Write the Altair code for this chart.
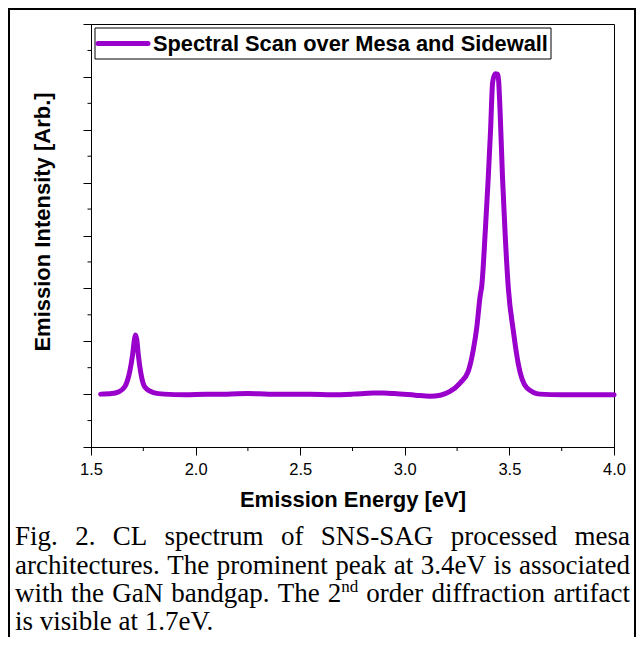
import altair as alt
import pandas as pd

# ---------------- data ----------------
energy = [1.546, 1.60, 1.63, 1.663, 1.686, 1.699, 1.708, 1.713, 1.719, 1.726,
          1.739, 1.758, 1.798, 1.85, 1.95, 2.05, 2.15, 2.25, 2.35, 2.45,
          2.55, 2.65, 2.75, 2.85, 2.90, 2.95, 3.05, 3.12, 3.17, 3.216,
          3.264, 3.304, 3.328, 3.344, 3.36, 3.368, 3.385, 3.399, 3.41, 3.42,
          3.432, 3.445, 3.455, 3.467, 3.48, 3.495, 3.519, 3.543, 3.583, 3.646,
          3.75, 3.85, 4.0]
intensity = [0.0, 0.01, 0.04, 0.15, 0.44, 0.75, 1.04, 1.12, 1.03, 0.75,
             0.38, 0.13, 0.03, 0.0, -0.01, 0.0, 0.0, 0.01, 0.0, 0.0,
             0.0, -0.01, 0.0, 0.02, 0.02, 0.01, -0.02, -0.04, -0.02, 0.05,
             0.21, 0.44, 0.85, 1.26, 1.85, 2.05, 3.1, 4.1, 5.0, 5.9,
             6.06, 6.05, 5.4, 4.1, 3.0, 2.0, 1.19, 0.56, 0.12, 0.0,
             -0.01, -0.01, -0.01]

x_ticks = [1.5, 2.0, 2.5, 3.0, 3.5, 4.0]
x_minor = [1.75, 2.25, 2.75, 3.25, 3.75]
y_ticks = [-1, 0, 1, 2, 3, 4, 5, 6, 7]
y_minor = [-0.5, 0.5, 1.5, 2.5, 3.5, 4.5, 5.5, 6.5]

legend_label = "Spectral Scan over Mesa and Sidewall"
x_title = "Emission Energy [eV]"
y_title = "Emission Intensity [Arb.]"
caption_lines = [
    "Fig. 2. CL spectrum of SNS-SAG processed mesa",
    "architectures. The prominent peak at 3.4eV is associated",
    "with the GaN bandgap. The 2^nd order diffraction artifact",
    "is visible at 1.7eV.",
]
caption_justified = [True, True, True, False]

# ---------------- layout ----------------
W, H = 523, 423
XD = [1.5, 4.0]
YD = [-1, 7]
LINE_COLOR = "#9900cc"
SANS = "Liberation Sans"
SERIF = "Liberation Serif"


def px_to_x(p):
    return XD[0] + p / W * (XD[1] - XD[0])


def py_to_y(p):
    return YD[1] - p / H * (YD[1] - YD[0])


# Times / Liberation Serif advance widths (per 1000 em)
TW = dict(zip("abcdefghijklmnopqrstuvwxyz",
              [444, 500, 444, 500, 444, 333, 500, 500, 278, 278, 500, 278, 778,
               500, 500, 500, 500, 333, 389, 278, 500, 500, 722, 500, 500, 444]))
TW.update(dict(zip("ABCDEFGHIJKLMNOPQRSTUVWXYZ",
                   [722, 667, 667, 722, 611, 556, 722, 722, 333, 389, 722, 611, 889,
                    722, 722, 556, 722, 667, 556, 611, 722, 722, 944, 722, 722, 611])))
TW.update({d: 500 for d in "0123456789"})
TW.update({".": 250, ",": 250, "-": 333, " ": 250})

CAP_FS = 27
SUP_FS = 17
CAP_LEFT, CAP_RIGHT = -76, 539
CAP_BASE = [521, 549.5, 578, 606]


def tw(s, fs):
    return sum(TW.get(c, 500) for c in s) / 1000 * fs


rows = []
for li, (line, just) in enumerate(zip(caption_lines, caption_justified)):
    words = line.split(" ")
    widths = []
    for w in words:
        if "^" in w:
            b, s = w.split("^")
            widths.append(tw(b, CAP_FS) + tw(s, SUP_FS))
        else:
            widths.append(tw(w, CAP_FS))
    if just and len(words) > 1:
        gap = (CAP_RIGHT - CAP_LEFT - sum(widths)) / (len(words) - 1)
    else:
        gap = tw(" ", CAP_FS)
    xp = CAP_LEFT
    for w, wd in zip(words, widths):
        if "^" in w:
            b, s = w.split("^")
            rows.append(dict(t=b, x=px_to_x(xp), y=py_to_y(CAP_BASE[li]), k="main"))
            rows.append(dict(t=s, x=px_to_x(xp + tw(b, CAP_FS)),
                             y=py_to_y(CAP_BASE[li] - 10), k="sup"))
        else:
            rows.append(dict(t=w, x=px_to_x(xp), y=py_to_y(CAP_BASE[li]), k="main"))
        xp += wd + gap
cap_df = pd.DataFrame(rows)

xs = alt.Scale(domain=XD, nice=False, zero=False)
ys = alt.Scale(domain=YD, nice=False, zero=False)

spec_df = pd.DataFrame({"energy": energy, "intensity": intensity})
one = pd.DataFrame({"label": [legend_label]})

line = alt.Chart(spec_df).mark_line(
    color=LINE_COLOR, strokeWidth=5, strokeCap="round", strokeJoin="round",
    interpolate="monotone"
).encode(
    x=alt.X("energy:Q", scale=xs, axis=alt.Axis(
        values=x_ticks, format=".1f", tickSize=8, tickColor="black", tickWidth=1,
        domainColor="black", domainWidth=1, grid=False,
        labelFont=SANS, labelFontSize=16.5, labelColor="black", labelPadding=6,
        labelFlush=False, title=x_title, titleFont=SANS, titleFontSize=22,
        titleFontWeight="bold", titleColor="black", titleY=59,
        titleBaseline="alphabetic")),
    y=alt.Y("intensity:Q", scale=ys, axis=alt.Axis(
        values=y_ticks, labels=False, tickSize=8, tickColor="black", tickWidth=1,
        domainColor="black", domainWidth=1, grid=False,
        title=y_title, titleFont=SANS, titleFontSize=22, titleFontWeight="bold",
        titleColor="black", titleAngle=270, titleX=-42, titleY=197.5,
        titleBaseline="alphabetic")),
)

xminor = alt.Chart(pd.DataFrame({"t": x_minor})).mark_rule(
    color="black", strokeWidth=1).encode(
    x=alt.X("t:Q", scale=xs), y=alt.value(H), y2=alt.value(H + 4))
yminor = alt.Chart(pd.DataFrame({"t": y_minor})).mark_rule(
    color="black", strokeWidth=1).encode(
    y=alt.Y("t:Q", scale=ys), x=alt.value(-3.5), x2=alt.value(0))

border = alt.Chart(one).mark_rect(
    fillOpacity=0, stroke="black", strokeWidth=2).encode(
    x=alt.value(-82), x2=alt.value(544), y=alt.value(-15), y2=alt.value(640))

leg_box = alt.Chart(one).mark_rect(
    fill="white", stroke="black", strokeWidth=1).encode(
    x=alt.value(4), x2=alt.value(460), y=alt.value(4), y2=alt.value(35))
leg_line = alt.Chart(one).mark_rule(
    color=LINE_COLOR, strokeWidth=5, strokeCap="round").encode(
    x=alt.value(7), x2=alt.value(57), y=alt.value(19.5))
leg_text = alt.Chart(one).mark_text(
    font=SANS, fontSize=21.8, fontWeight="bold", color="black",
    align="left", baseline="middle").encode(
    x=alt.value(62), y=alt.value(19.5), text="label:N")

cap_main = alt.Chart(cap_df).transform_filter(alt.datum.k == "main").mark_text(
    font=SERIF, fontSize=CAP_FS, color="black", align="left",
    baseline="alphabetic").encode(
    x=alt.X("x:Q", scale=xs), y=alt.Y("y:Q", scale=ys), text="t:N")
cap_sup = alt.Chart(cap_df).transform_filter(alt.datum.k == "sup").mark_text(
    font=SERIF, fontSize=SUP_FS, color="black", align="left",
    baseline="alphabetic").encode(
    x=alt.X("x:Q", scale=xs), y=alt.Y("y:Q", scale=ys), text="t:N")

chart = alt.layer(
    line, border, xminor, yminor, leg_box, leg_line, leg_text, cap_main, cap_sup
).properties(
    width=W, height=H,
    autosize=alt.AutoSizeParams(type="none"),
    padding={"left": 83, "top": 16, "right": 22, "bottom": 190},
    background="white",
).configure_view(stroke="black", strokeWidth=1)

chart.save("out.html", embed_options={"renderer": "svg", "actions": False})
